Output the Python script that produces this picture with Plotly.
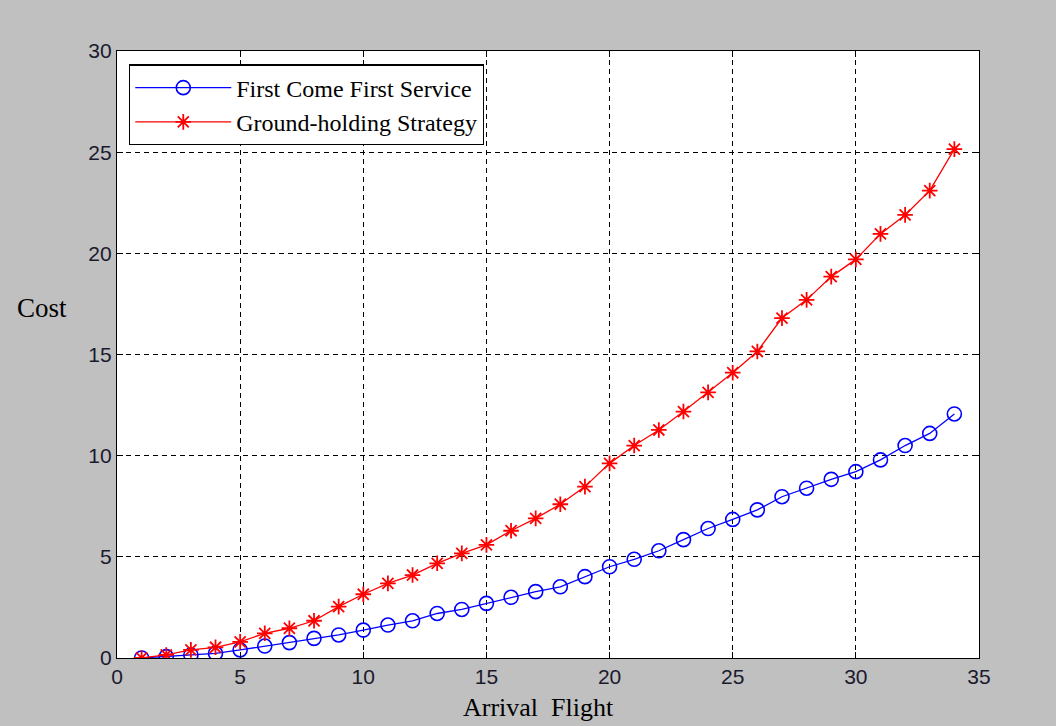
import plotly.graph_objects as go

flights = list(range(1, 35))
fcfs = [0.0, 0.07, 0.15, 0.23, 0.4, 0.59, 0.76, 0.97, 1.14, 1.38, 1.63, 1.84, 2.2, 2.4,
        2.7, 3.0, 3.28, 3.52, 4.02, 4.51, 4.88, 5.3, 5.85, 6.4, 6.85, 7.32, 7.97, 8.39,
        8.83, 9.21, 9.79, 10.5, 11.1, 12.06]
ground = [0.0, 0.15, 0.4, 0.53, 0.8, 1.22, 1.47, 1.84, 2.54, 3.15, 3.69, 4.1, 4.68, 5.17,
          5.59, 6.29, 6.9, 7.6, 8.47, 9.62, 10.5, 11.27, 12.18, 13.13, 14.1, 15.15, 16.8,
          17.7, 18.85, 19.7, 20.96, 21.9, 23.1, 25.15]
series_names = ["First Come First Service", "Ground-holding Strategy"]
x_ticks = [0, 5, 10, 15, 20, 25, 30, 35]
y_ticks = [0, 5, 10, 15, 20, 25, 30]

fig = go.Figure()
fig.add_trace(go.Scatter(
    x=flights, y=fcfs, name=series_names[0], mode="lines+markers",
    line=dict(color="#0000ff", width=1.3),
    marker=dict(symbol="circle-open", size=14, color="#0000ff", line=dict(width=1.6, color="#0000ff")),
))
fig.add_trace(go.Scatter(
    x=flights, y=ground, name=series_names[1], mode="lines+markers",
    line=dict(color="#ff0000", width=1.3),
    marker=dict(symbol="asterisk-open", size=13, color="#ff0000", line=dict(width=1.8, color="#ff0000")),
))

axis_common = dict(
    showgrid=True, gridcolor="black", gridwidth=1, griddash="5px,4px",
    zeroline=False, showline=True, linecolor="black", linewidth=1.2, mirror="allticks",
    ticks="inside", ticklen=6, tickcolor="black",
    tickfont=dict(family="Liberation Sans, Arial", size=21, color="#1a1a2e"),
)
fig.update_xaxes(range=[0, 35], tickvals=x_ticks, **axis_common)
fig.update_yaxes(range=[0, 30], tickvals=y_ticks, **axis_common)

fig.update_layout(
    width=1056, height=726,
    margin=dict(l=117, r=77, t=51, b=68),
    paper_bgcolor="#c0c0c0", plot_bgcolor="white",
    showlegend=True,
    legend=dict(
        x=0.014, y=0.978, xanchor="left", yanchor="top",
        bgcolor="white", bordercolor="black", borderwidth=1.2,
        font=dict(family="Liberation Serif, Times New Roman", size=24, color="black"),
        itemwidth=96, tracegroupgap=0,
    ),
    annotations=[
        dict(text="Cost", x=-0.118, y=0.577, xref="paper", yref="paper",
             xanchor="left", yanchor="middle", showarrow=False,
             font=dict(family="Liberation Serif, Times New Roman", size=27, color="black")),
        dict(text="Arrival&nbsp;&nbsp;Flight", x=0.489, y=-0.082, xref="paper", yref="paper",
             xanchor="center", yanchor="middle", showarrow=False,
             font=dict(family="Liberation Serif, Times New Roman", size=26, color="black")),
    ],
)

fig.write_html("out.html", config={"displayModeBar": False},
               post_script="document.body.style.margin='0';document.body.style.background='#c0c0c0';")
